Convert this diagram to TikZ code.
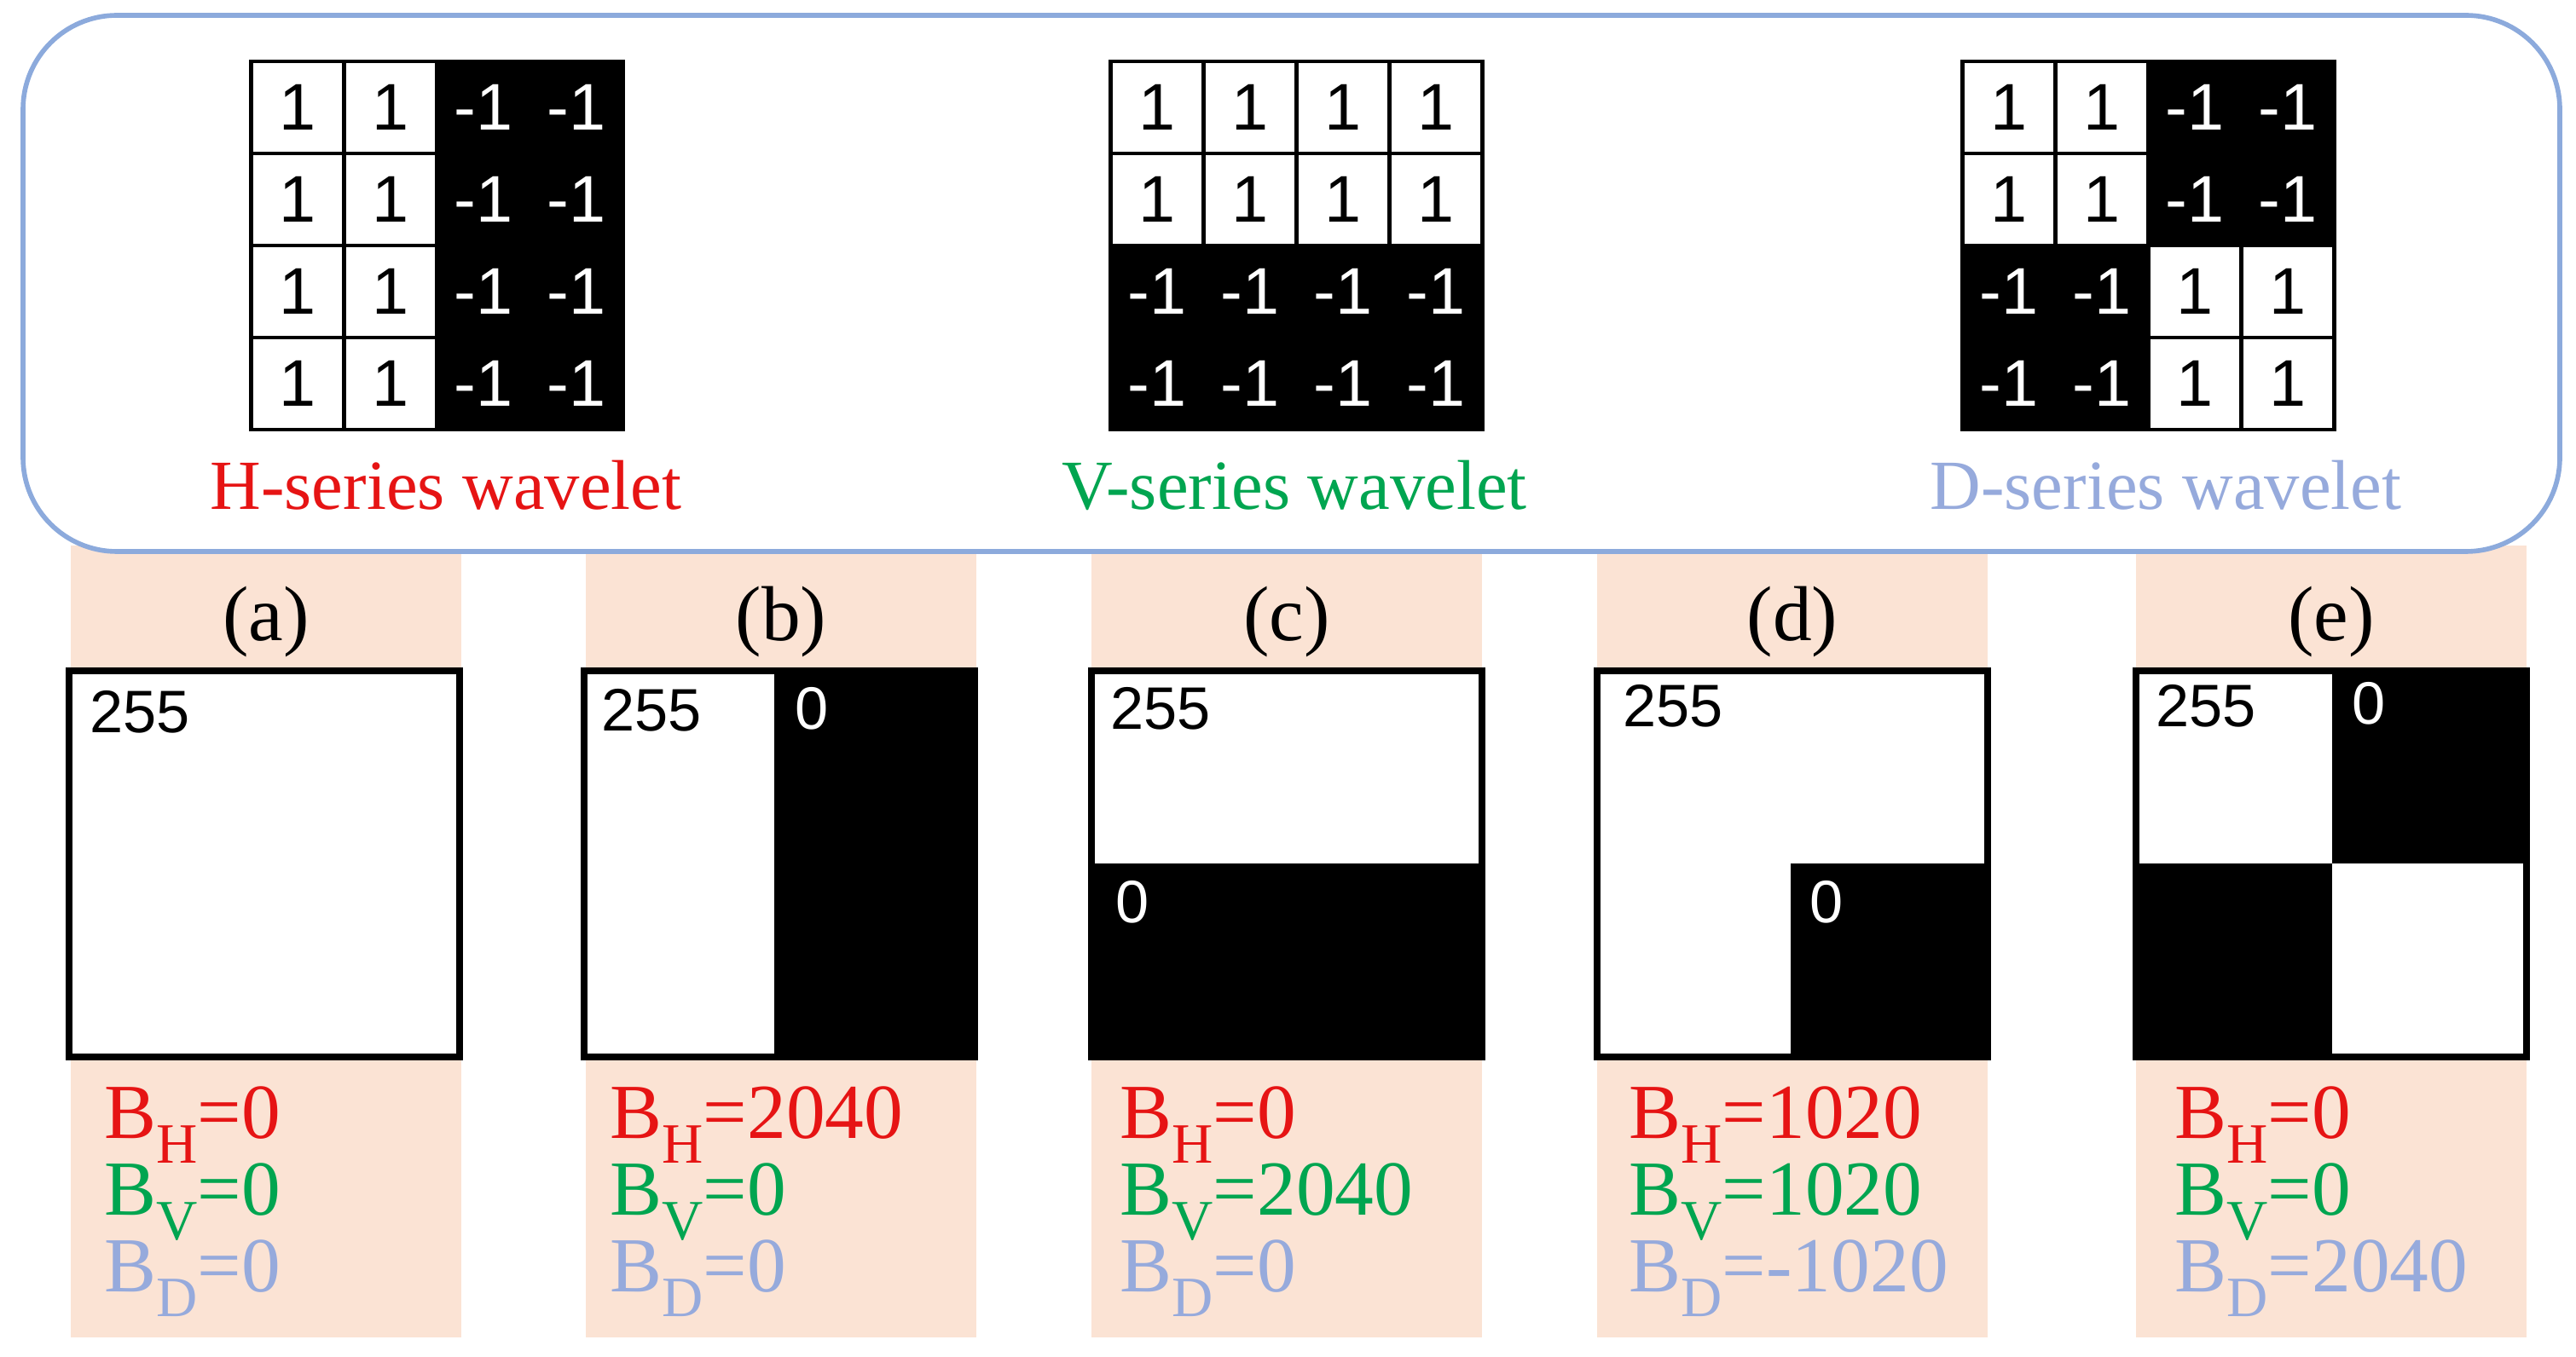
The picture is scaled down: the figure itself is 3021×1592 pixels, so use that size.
\documentclass[tikz,border=0pt]{standalone}
\usepackage{fontspec}
\setmainfont{Liberation Serif}
\newfontfamily\sans{Liberation Sans}
\definecolor{hred}{RGB}{230,20,20}
\definecolor{vgreen}{RGB}{0,165,80}
\definecolor{dblue}{RGB}{150,170,220}
\definecolor{peach}{RGB}{251,227,212}
\definecolor{boxblue}{RGB}{140,170,220}
\begin{document}
\begin{tikzpicture}[x=0.01cm,y=-0.01cm,
  cellw/.style={draw=black,line width=1.2pt,fill=white,minimum width=1.09cm,minimum height=1.08cm,inner sep=0,text=black,font=\sans\fontsize{22}{22}\selectfont},
  cellb/.style={cellw,fill=black,text=white},
  lab/.style={font=\fontsize{26}{26}\selectfont},
  sq/.style={draw=black,line width=2.2pt},
  num/.style={font=\sans\fontsize{20}{20}\selectfont,anchor=base west,inner sep=0},
  bl/.style={font=\fontsize{26}{26}\selectfont,anchor=base west,inner sep=0}]
\useasboundingbox (0,0) rectangle (3021,1592);
\newcommand\sbs[1]{\raisebox{-0.32em}{\fontsize{19}{19}\selectfont #1}}
% panel backgrounds
\foreach \px/\n in {83/a,687/b,1280/c,1873/d,2505/e}{
  \fill[peach] (\px,640) rectangle ++(458,929);
}
% rounded box
\draw[boxblue,line width=1.6pt,fill=white,rounded corners=1.1cm] (27,18) rectangle (3002,647);
% grids
\foreach \i in {0,...,3}{\foreach \j in {0,...,3}{
  \pgfmathtruncatemacro\xx{295+109*\i+54}\pgfmathtruncatemacro\yy{72+108*\j+54}
  \ifnum\i<2 \node[cellw] (h\i\j) at (\xx,\yy) {1};\else \node[cellb] (h\i\j) at (\xx,\yy) {-1};\fi
  \pgfmathtruncatemacro\xx{1303+109*\i+54}
  \ifnum\j<2 \node[cellw] (v\i\j) at (\xx,\yy) {1};\else \node[cellb] (v\i\j) at (\xx,\yy) {-1};\fi
  \pgfmathtruncatemacro\xx{2302+109*\i+54}
  \pgfmathtruncatemacro\same{(\i<2)==(\j<2)}
  \ifnum\same=1 \node[cellw] (d\i\j) at (\xx,\yy) {1};\else \node[cellb] (d\i\j) at (\xx,\yy) {-1};\fi
}}
\node[lab,text=hred,anchor=base,font=\fontsize{23.5}{24}\selectfont] (hl) at (523,598) {H-series wavelet};
\node[lab,text=vgreen,anchor=base,font=\fontsize{23.5}{24}\selectfont] (vl) at (1518,598) {V-series wavelet};
\node[lab,text=dblue,anchor=base,font=\fontsize{23.5}{24}\selectfont] (dl) at (2540,598) {D-series wavelet};
% panel labels
\foreach \cx/\n in {312/a,916/b,1509/c,2102/d,2734/e}{
  \node[lab,anchor=base] (l\n) at (\cx,752) {(\n)};
}
% squares
\foreach \px/\n in {81/a,685/b,1280/c,1873/d,2505/e}{
  \fill[white] (\px,787) rectangle ++(458,453);
}
\fill[black] (1143,787) rectangle (908,1240);
\fill[black] (1280,1013) rectangle (1738,1240);
\fill[black] (2100,1013) rectangle (2331,1240);
\fill[black] (2735,787) rectangle (2963,1013);
\fill[black] (2505,1013) rectangle (2735,1240);
\foreach \px/\n in {81/a,685/b,1280/c,1873/d,2505/e}{
  \draw[sq] (\px,787) rectangle ++(458,453);
}
\node[num] (na) at (105,860) {255};
\node[num] (nb) at (705,858) {255};
\node[num,text=white] (nb0) at (932,856) {0};
\node[num] (nc) at (1302,856) {255};
\node[num,text=white] (nc0) at (1308,1082) {0};
\node[num] (nd) at (1903,853) {255};
\node[num,text=white] (nd0) at (2122,1082) {0};
\node[num] (ne) at (2528,853) {255};
\node[num,text=white] (ne0) at (2758,850) {0};
% B values
\foreach \px/\n/\h/\v/\d in {122/a/0/0/0,715/b/2040/0/0,1313/c/0/2040/0,1910/d/1020/1020/-1020,2550/e/0/0/2040}{
  \node[bl,text=hred] (bh\n) at (\px,1335) {B\sbs{H}=\h};
  \node[bl,text=vgreen] (bv\n) at (\px,1425) {B\sbs{V}=\v};
  \node[bl,text=dblue] (bd\n) at (\px,1515) {B\sbs{D}=\d};
}
\end{tikzpicture}
\end{document}
